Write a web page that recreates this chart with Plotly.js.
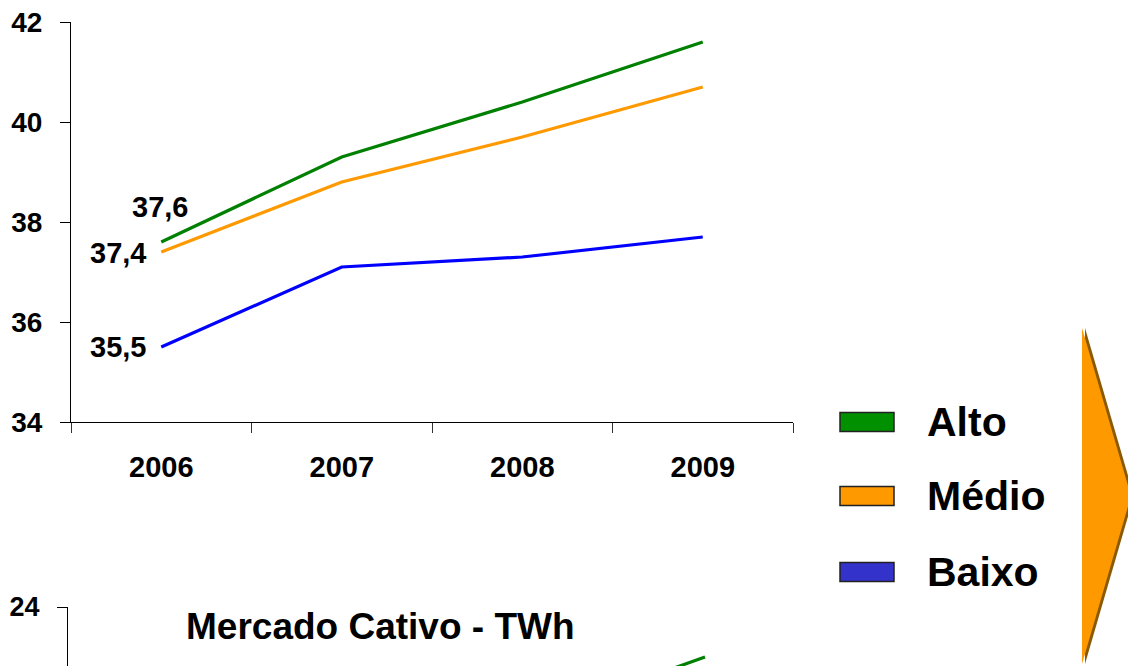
<!DOCTYPE html>
<html>
<head>
<meta charset="utf-8">
<script src="https://cdn.plot.ly/plotly-3.0.1.min.js"></script>
<style>
html,body{margin:0;padding:0;background:#fff;overflow:hidden;}
#chart{width:1128px;height:666px;}
</style>
</head>
<body>
<div id="chart"></div>
<script>
// ---- data ----
var years = ['2006', '2007', '2008', '2009'];
var seriesNames = ['Alto', 'Médio', 'Baixo'];
var altoTop = [37.6, 39.3, 40.4, 41.6];
var medioTop = [37.4, 38.8, 39.7, 40.7];
var baixoTop = [35.5, 37.1, 37.3, 37.7];
// lower chart (Mercado Cativo - TWh), mostly below the visible area
var altoBottom = [20.0, 21.0, 21.7, 23.0];
var medioBottom = [19.6, 20.5, 21.1, 21.9];
var baixoBottom = [18.9, 19.8, 20.1, 20.5];
var topTickVals = [34, 36, 38, 40, 42];
var bottomTitle = 'Mercado Cativo - TWh';

// ---- styling helpers ----
var W = 1128, H = 666;
function px(x){ return x / W; }
function py(y){ return 1 - y / H; }
var lineColors = ['#008000', '#FF9900', '#0000FF'];
var boxColors = ['#009000', '#FF9900', '#3333CC'];
var FONT = 'Arial, "Liberation Sans", sans-serif';
function fmt(v){ return v.toFixed(1).replace('.', ','); }

var topSeries = [altoTop, medioTop, baixoTop];
var bottomSeries = [altoBottom, medioBottom, baixoBottom];

var traces = [];
topSeries.forEach(function(s, i){
  traces.push({x: years, y: s, type: 'scatter', mode: 'lines', name: seriesNames[i],
    line: {color: lineColors[i], width: 3.2}, xaxis: 'x', yaxis: 'y', showlegend: false, hoverinfo: 'skip'});
});
bottomSeries.forEach(function(s, i){
  traces.push({x: years, y: s, type: 'scatter', mode: 'lines', name: seriesNames[i],
    line: {color: lineColors[i], width: 3.2}, xaxis: 'x2', yaxis: 'y2', showlegend: false, hoverinfo: 'skip'});
});

var labelFont = {family: FONT, size: 29, weight: 'bold', color: '#000'};
var annotations = [
  {x: 0, y: altoTop[0], xref: 'x', yref: 'y', text: '<b>' + fmt(altoTop[0]) + '</b>', showarrow: false,
   xanchor: 'center', yanchor: 'middle', xshift: -1, yshift: 35, font: labelFont},
  {x: 0, y: medioTop[0], xref: 'x', yref: 'y', text: '<b>' + fmt(medioTop[0]) + '</b>', showarrow: false,
   xanchor: 'right', yanchor: 'middle', xshift: -13, yshift: -1, font: labelFont},
  {x: 0, y: baixoTop[0], xref: 'x', yref: 'y', text: '<b>' + fmt(baixoTop[0]) + '</b>', showarrow: false,
   xanchor: 'right', yanchor: 'middle', xshift: -13, yshift: 0, font: labelFont},
  {x: px(380), y: py(626), xref: 'paper', yref: 'paper', text: '<b>' + bottomTitle + '</b>', showarrow: false,
   xanchor: 'center', yanchor: 'middle', font: {family: FONT, size: 37, weight: 'bold', color: '#000'}}
];

var shapes = [];
// legend boxes + labels
var legendY = [422, 496, 572];
seriesNames.forEach(function(n, i){
  var cy = legendY[i];
  shapes.push({type: 'rect', xref: 'paper', yref: 'paper', x0: px(840), x1: px(894), y0: py(cy - 9.5), y1: py(cy + 9.5),
    fillcolor: boxColors[i], line: {color: '#222', width: 1.5}});
  annotations.push({x: px(925), y: py(cy), xref: 'paper', yref: 'paper', text: '<b>' + n + '</b>', showarrow: false,
    xanchor: 'left', yanchor: 'middle', font: {family: FONT, size: 41, weight: 'bold', color: '#000'}});
});
// orange arrow (with shadow)
function arrowPath(dx){
  return 'M ' + px(1082 + dx) + ' ' + py(328) + ' L ' + px(1131 + dx) + ' ' + py(496) +
         ' L ' + px(1082 + dx) + ' ' + py(664) + ' Z';
}
shapes.push({type: 'path', xref: 'paper', yref: 'paper', path: arrowPath(3), fillcolor: '#8A5A00', line: {width: 0}});
shapes.push({type: 'path', xref: 'paper', yref: 'paper', path: arrowPath(0), fillcolor: '#FF9900', line: {width: 0}});

var layout = {
  width: W, height: H,
  margin: {l: 0, r: 0, t: 0, b: 0},
  paper_bgcolor: '#fff', plot_bgcolor: 'rgba(0,0,0,0)',
  showlegend: false,
  font: {family: FONT, color: '#000'},
  xaxis: {domain: [px(71), px(793)], anchor: 'y', type: 'category', categoryorder: 'array', categoryarray: years,
    range: [-0.5, 3.5], tickson: 'boundaries', ticks: 'outside', ticklen: 10, tickwidth: 1, tickcolor: '#333',
    showline: true, linecolor: '#000', linewidth: 1, showgrid: false, zeroline: false, fixedrange: true,
    ticklabelstandoff: 19, tickfont: {family: FONT, size: 29, weight: 'bold', color: '#000'}},
  yaxis: {domain: [py(422), py(22)], anchor: 'x', range: [34, 42], tickvals: topTickVals,
    ticks: 'outside', ticklen: 10, tickwidth: 1, tickcolor: '#000',
    showline: true, linecolor: '#000', linewidth: 1, showgrid: false, zeroline: false, fixedrange: true,
    ticklabelstandoff: 12, tickfont: {family: FONT, size: 28, weight: 'bold', color: '#000'}},
  xaxis2: {domain: [px(68), px(796)], anchor: 'y2', type: 'category', categoryorder: 'array', categoryarray: years,
    range: [-0.5, 3.5], visible: false, fixedrange: true},
  yaxis2: {domain: [0, py(607)], anchor: 'x2', range: [24 - 59 / 50, 24], tick0: 0, dtick: 2,
    ticks: 'outside', ticklen: 10, tickwidth: 1, tickcolor: '#000',
    showline: true, linecolor: '#000', linewidth: 1, showgrid: false, zeroline: false, fixedrange: true,
    ticklabelstandoff: 12, tickfont: {family: FONT, size: 27, weight: 'bold', color: '#000'}},
  annotations: annotations,
  shapes: shapes
};

Plotly.newPlot('chart', traces, layout, {displayModeBar: false, staticPlot: true});
</script>
</body>
</html>
